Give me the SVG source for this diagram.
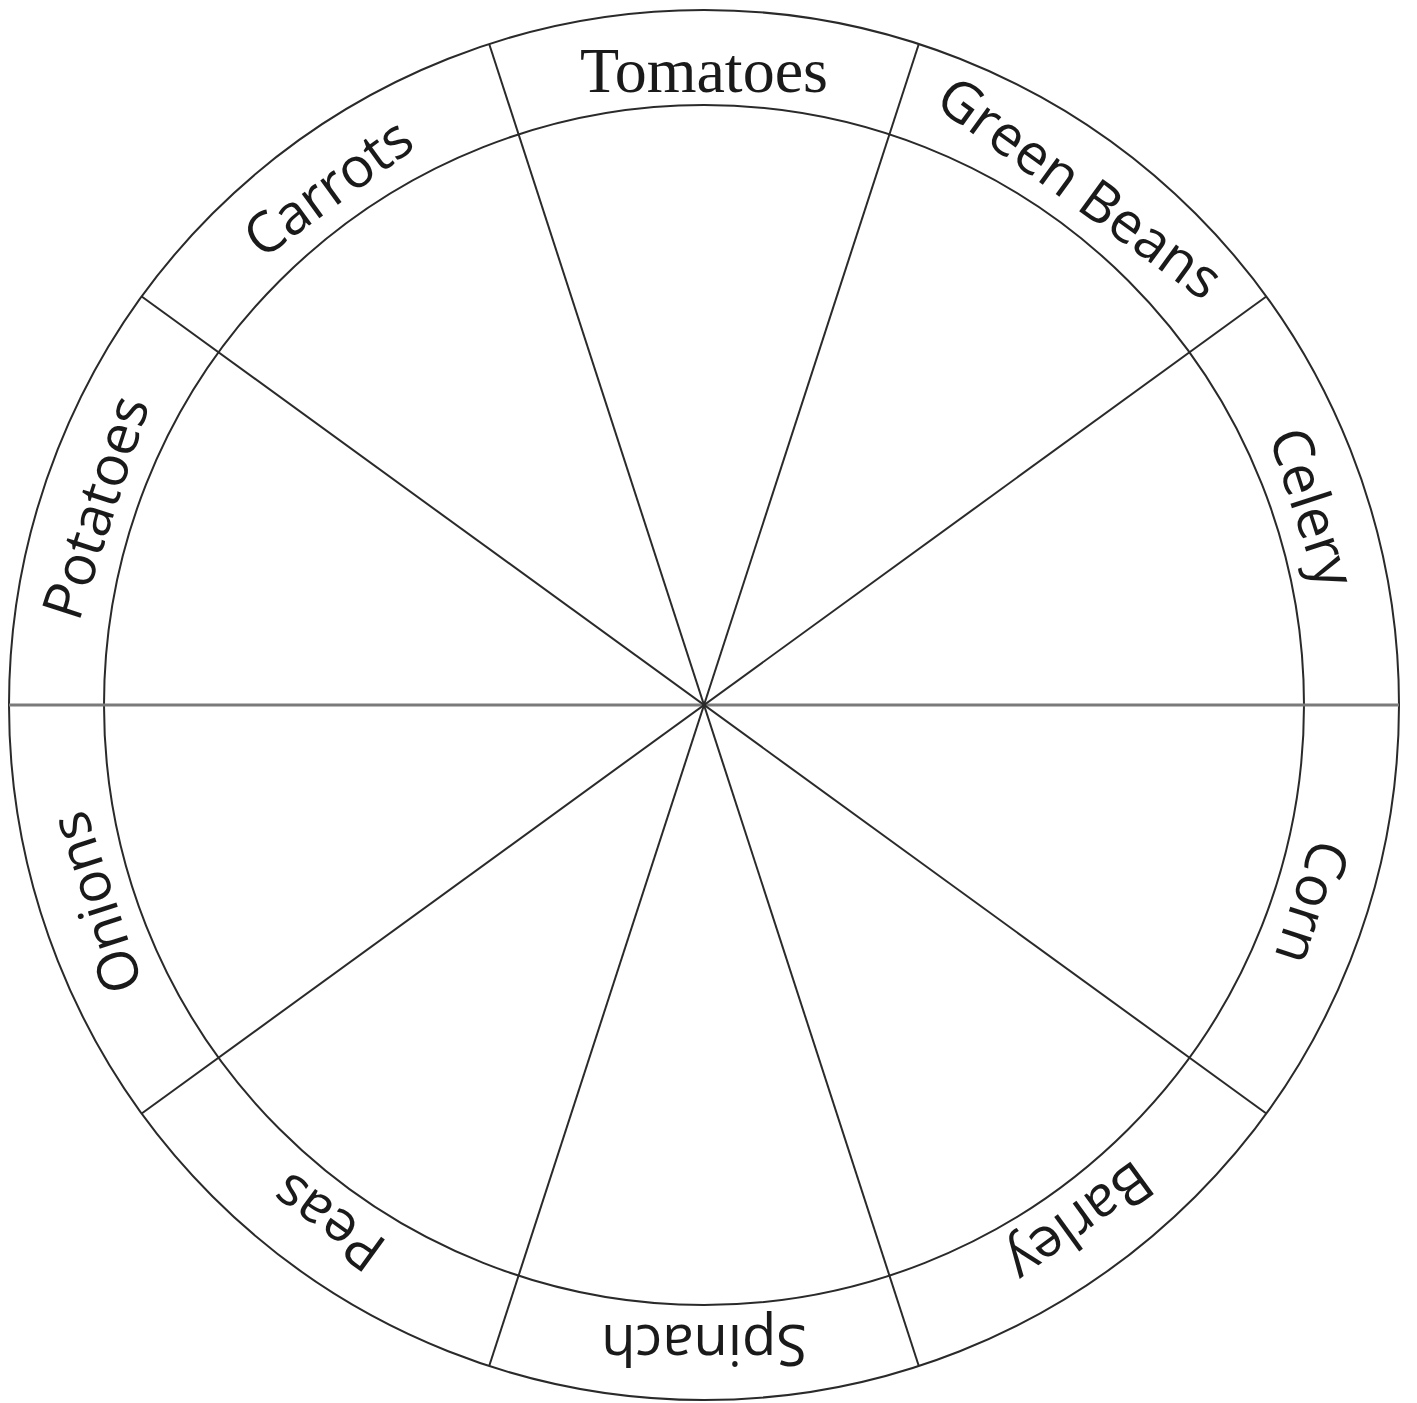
<svg xmlns="http://www.w3.org/2000/svg" width="1417" height="1403" viewBox="0 0 1417 1403">
<style>
.ring{fill:none;stroke:#2a2a2a;stroke-width:2}
.spoke{stroke:#2a2a2a;stroke-width:2}
.axis{stroke:#7a7a7a;stroke-width:3}
.lbl{font-family:"Open Sans","DejaVu Sans",sans-serif;font-size:56px;fill:#1a1a1a;text-anchor:middle}
.ser{font-family:"Liberation Serif","Times New Roman",serif;font-size:64px;fill:#1a1a1a;text-anchor:middle}
</style>
<rect width="1417" height="1403" fill="#fff"/>
<g id="rings">
<circle class="ring" cx="704" cy="705" r="695"/>
<circle class="ring" cx="704" cy="705" r="600"/>
</g>
<g id="connectors">
<line class="axis" x1="9" y1="705" x2="1399" y2="705"/>
<line class="spoke" x1="1266.3" y1="296.5" x2="141.7" y2="1113.5"/>
<line class="spoke" x1="918.8" y1="44" x2="489.2" y2="1366"/>
<line class="spoke" x1="489.2" y1="44" x2="918.8" y2="1366"/>
<line class="spoke" x1="141.7" y1="296.5" x2="1266.3" y2="1113.5"/>
</g>
<g id="tomatoes"><text class="ser" x="704" y="92">Tomatoes</text></g>
<g id="green-beans"><text class="lbl" x="704" y="85" transform="rotate(36 704 705)">Green Beans</text></g>
<g id="celery"><text class="lbl" x="704" y="85" transform="rotate(72 704 705)">Celery</text></g>
<g id="corn"><text class="lbl" x="704" y="85" transform="rotate(108 704 705)">Corn</text></g>
<g id="barley"><text class="lbl" x="704" y="85" transform="rotate(144 704 705)">Barley</text></g>
<g id="spinach"><text class="lbl" x="704" y="85" transform="rotate(180 704 705)">Spinach</text></g>
<g id="peas"><text class="lbl" x="704" y="85" transform="rotate(216 704 705)">Peas</text></g>
<g id="onions"><text class="lbl" x="704" y="85" transform="rotate(252 704 705)">Onions</text></g>
<g id="potatoes"><text class="lbl" x="704" y="85" transform="rotate(-72 704 705)">Potatoes</text></g>
<g id="carrots"><text class="lbl" x="704" y="85" transform="rotate(-36 704 705)">Carrots</text></g>
</svg>
